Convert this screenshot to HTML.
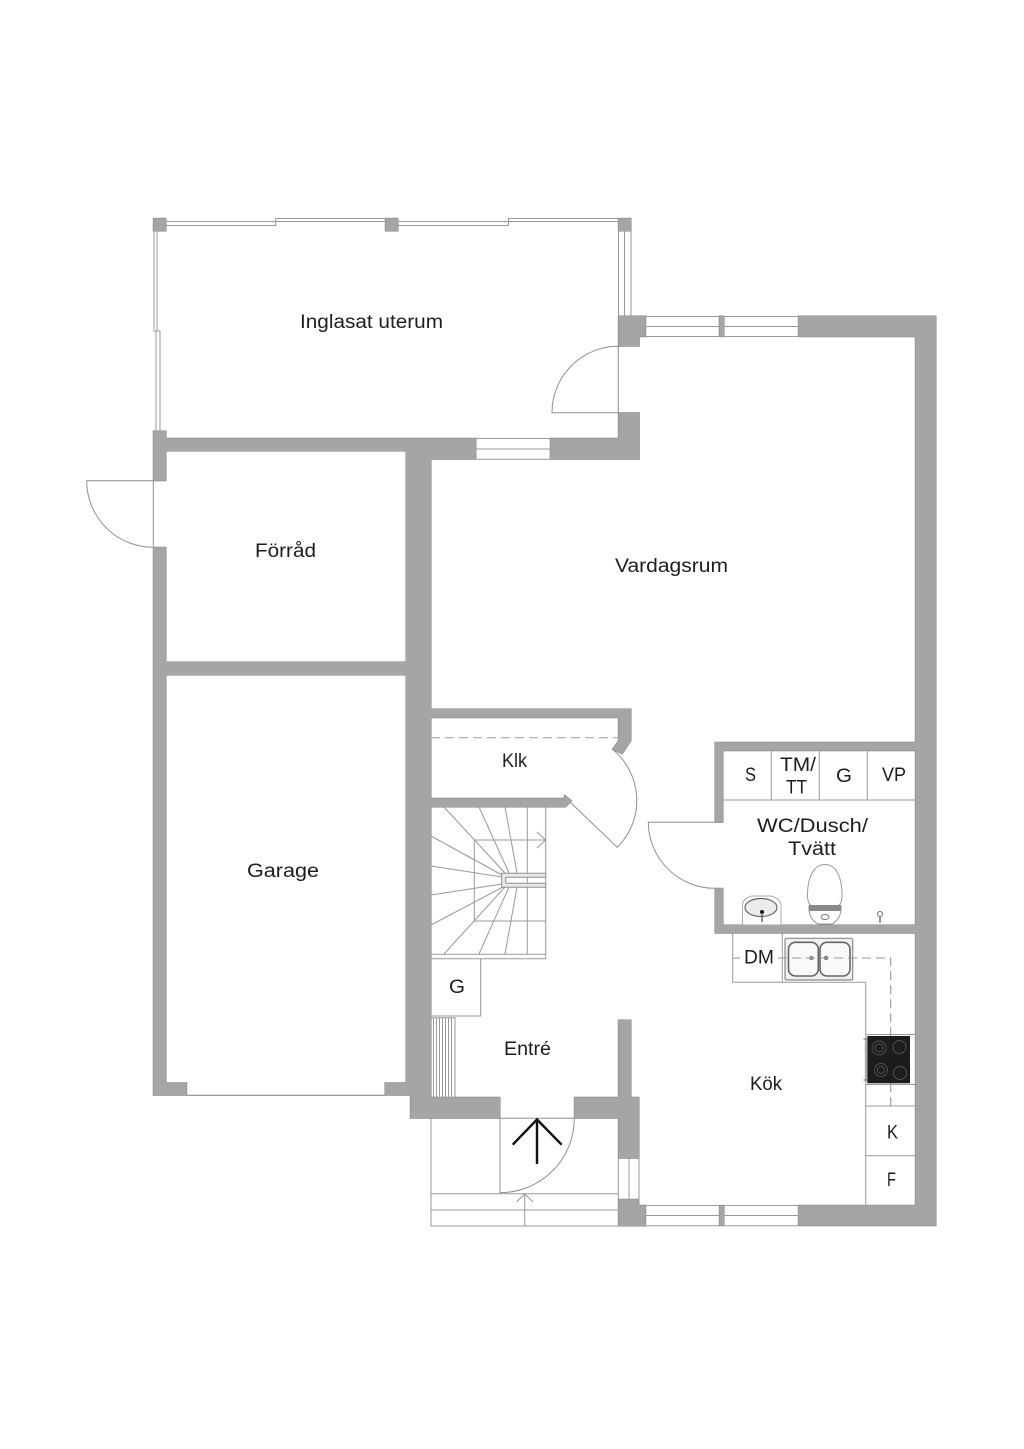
<!DOCTYPE html>
<html><head><meta charset="utf-8"><title>Planritning</title>
<style>
html,body{margin:0;padding:0;background:#fff}
svg{display:block}
text{font-family:"Liberation Sans",sans-serif;font-size:19px;fill:#1d1d1d}
.l{fill:none;stroke:#8f8f8f;stroke-width:1}
.t{fill:none;stroke:#999;stroke-width:1}
</style></head><body>
<svg xmlns="http://www.w3.org/2000/svg" width="1024" height="1449" viewBox="0 0 1024 1449">
<rect width="1024" height="1449" fill="#fff"/>
<defs>
<g id="w">
<rect x="153.3" y="218.3" width="12.7" height="12.7"/>
<rect x="385.3" y="218.3" width="12.7" height="12.7"/>
<rect x="618.3" y="218.3" width="12.7" height="12.7"/>
<path d="M153.3 431H166V438.3H476V451H431V1097.3H500V1118.3H410.3V1095.3H385V1082.7H406V675H166V662H406V451H166V480.7H153.3Z"/>
<path d="M153.3 547.3H166V1082.7H186.7V1095.3H153.3Z"/>
<path d="M476 438.3H476V459.3H431V451H476Z"/>
<path d="M550.3 438.3H618.3V412.7H639.3V459.3H550.3Z"/>
<path d="M618.3 316H645.7V336.7H639.3V346.3H618.3Z"/>
<path d="M798.3 316H936V1225.7H798.3V1205.3H915.3V933.3H715V888.3H723V925H915.3V750.7H723V822.3H715V742.3H915.3V336.7H798.3Z"/>
<path d="M431 709H631V740.7L622.3 754L612.3 749.3L618.3 741V717.7H431Z"/>
<path d="M431 798.3H564L564.5 795L571.7 800.7L565.7 807H431Z"/>
<path d="M574.3 1097.3H618.3V1020H631V1097.3H639V1158.3H618.3V1118.3H574.3Z"/>
<path d="M618.3 1199.3H639V1205.3H645.7V1226H618.3Z"/>
<rect x="719.3" y="316" width="4.7" height="20.7"/>
<rect x="719.3" y="1205.3" width="4.7" height="20.4"/>
</g>
</defs>
<use href="#w" fill="#a5a5a5" stroke="#808080" stroke-width="1"/>
<use href="#w" fill="#a5a5a5"/>

<!-- uterum glazing -->
<g class="t">
<path d="M166 221.5H275.7V218.5H385.3M166 225.5H275.7V221.5H385.3"/>
<path d="M398 221.5H508.5V218.5H618.3M398 225.5H508.5V221.5H618.3"/>
<path d="M154 231V331H156V431M157 231V331H160V431"/>
<path d="M618.5 231V316M624.5 231V316M631 231V316"/>
</g>
<!-- windows -->
<g class="t">
<path d="M645.7 316.5H719.3V336.5H645.7M645.7 326.5H719.3M724 316.5H798.3M724 326.5H798.3M724 336.5H798.3"/>
<path d="M645.7 1205.5H719.3M645.7 1215.5H719.3M645.7 1225.7H719.3M724 1205.5H798.3M724 1215.5H798.3M724 1225.7H798.3"/>
<path d="M476 438.5H550.3M476 449H550.3M476 459.3H550.3M476 438.5V459.3M550.3 438.5V459.3"/>
<path d="M618.3 1158.3V1199.3M629 1158.3V1199.3M639 1158.3V1205"/>
</g>
<!-- doors -->
<g class="l">
<path d="M618.3 346.3A66.3 66.3 0 0 0 552 412.7H618.3V346.3"/>
<path d="M86.7 480.7H153.3V547.3A66.6 66.6 0 0 1 86.7 480.7Z"/>
<path d="M613.3 750A66 66 0 0 1 617.3 847.3L570 802"/>
<path d="M723 822.3H648.3A66.5 66.5 0 0 0 715 888.3"/>
<path d="M574.3 1118.3H500V1192.7A74.3 74.3 0 0 0 574.3 1118.3Z"/>
<path d="M186.7 1095.3H385" stroke-width="1.2"/>
</g>
<!-- klk dashed -->
<path d="M431 737.7H618" fill="none" stroke="#aaa" stroke-width="1.2" stroke-dasharray="9 5"/>
<!-- stairs -->
<g class="t">
<path d="M545.7 807V958.7H431M431 954.3H545.7M527.3 807V954.3"/>
<path d="M545.7 840H474.3V921H545.7"/>
<path d="M537 832L545.7 840L537 848"/>
<path d="M444 807L505 873M479 807L509 873M505 807L517 873M431 836L502 875M431 866L502 877M431 895L502 884M431 925L503 887M444 954L505 887M479 954L509 887M505 954L517 887"/>
</g>
<path d="M545.7 873.3H501.7V887.3H545.7V883.3H505.7V877.3H545.7Z" fill="#e9e9e9" stroke="#8f8f8f" stroke-width="1"/>
<!-- G box and radiator -->
<path class="t" d="M431 1016H480.7V958.7"/>
<g class="t" stroke-width=".8">
<path d="M431 1017.7H455V1097.3M433.5 1017.7V1097.3M436.5 1017.7V1097.3M439.5 1017.7V1097.3M442.5 1017.7V1097.3M445.5 1017.7V1097.3M448.5 1017.7V1097.3M451.5 1017.7V1097.3"/>
</g>
<!-- porch -->
<g class="t">
<path d="M431 1118.3V1226H618.3M431 1193.7H618.3M431 1210H618.3M524.7 1194V1226M516.5 1202L524.7 1194L533 1202"/>
</g>
<path d="M537 1164V1119.5M512.7 1144.7L537 1119.5L561.7 1144.7" fill="none" stroke="#111" stroke-width="2.4"/>
<!-- WC cabinets -->
<g class="t">
<path d="M723 800H915.3M771.3 750.7V800M819.3 750.7V800M867.3 750.7V800"/>
</g>
<!-- WC sink -->
<path d="M742.5 925V905Q743 898 752 896H771Q780 898 781 905V925Z" fill="#fff" stroke="#aaa"/>
<ellipse cx="761" cy="907.5" rx="16" ry="9" fill="#ececec" stroke="#666" stroke-width="1.2"/>
<circle cx="762" cy="912" r="2" fill="#111"/>
<path d="M762 913V922" stroke="#666" stroke-width="1.5"/>
<!-- toilet -->
<path d="M807.5 895C807.5 875 815 864.5 825 864.5C835 864.5 842 875 842 895Q842 905 837 906H813Q807.5 905 807.5 895Z" fill="#fff" stroke="#999"/>
<path d="M809 906H841Q842 918 832 924H818Q808 918 809 906Z" fill="#fff" stroke="#999"/>
<rect x="809" y="905" width="32" height="6" fill="#8a8a8a"/>
<ellipse cx="825" cy="917" rx="4" ry="2.5" fill="#fff" stroke="#777"/>
<circle cx="880" cy="914" r="2.6" fill="#fff" stroke="#777"/>
<path d="M880 917V923" stroke="#999" stroke-width="2"/>
<!-- kitchen counter -->
<g class="t">
<path d="M732.7 933.3V982.3H865.7V1205.3M782.3 933.3V982.3M865.7 1106H915.3M865.7 1155.7H915.3M865.7 1034.5H915.3M865.7 1084.5H915.3"/>
</g>
<!-- sink -->
<rect x="785" y="938.3" width="67.7" height="41.7" rx="1.5" fill="#f0f0f0" stroke="#8a8a8a" stroke-width="1.2"/>
<rect x="788.5" y="942.3" width="29.8" height="33.7" rx="7" fill="#f9f9f9" stroke="#666" stroke-width="1.6"/>
<rect x="820" y="942.3" width="30" height="33.7" rx="7" fill="#f9f9f9" stroke="#666" stroke-width="1.6"/>
<circle cx="811.5" cy="958" r="2.2" fill="#888"/>
<circle cx="826" cy="958" r="2.2" fill="#777"/>
<path d="M733 958H740M778 958H890.7V1106" fill="none" stroke="#9a9a9a" stroke-width="1.1" stroke-dasharray="9 5"/>
<!-- stove -->
<rect x="867.3" y="1036" width="42.7" height="47.3" fill="#1c1c1c"/>
<path d="M866 1038V1081" stroke="#aaa" stroke-width="2.4"/>
<path d="M863.5 1039H867M863.5 1080H867" stroke="#777"/>
<g fill="none" stroke="#4f4f4f" stroke-width="1">
<circle cx="879" cy="1048" r="7"/><circle cx="879" cy="1048" r="4"/>
<circle cx="899.5" cy="1047" r="6.5"/>
<circle cx="881" cy="1070" r="6.5"/><circle cx="881" cy="1070" r="3.5"/>
<circle cx="900" cy="1073" r="6.5"/>
</g>
<!-- labels -->
<text x="300" y="328" textLength="143" lengthAdjust="spacingAndGlyphs">Inglasat uterum</text>
<text x="255" y="557" textLength="61" lengthAdjust="spacingAndGlyphs">Förråd</text>
<text x="615" y="572" textLength="113" lengthAdjust="spacingAndGlyphs">Vardagsrum</text>
<text x="247" y="877" textLength="72" lengthAdjust="spacingAndGlyphs">Garage</text>
<text x="502" y="767" textLength="25" lengthAdjust="spacingAndGlyphs">Klk</text>
<text x="745" y="781" textLength="11" lengthAdjust="spacingAndGlyphs">S</text>
<text x="780" y="771" textLength="36" lengthAdjust="spacingAndGlyphs">TM/</text>
<text x="786" y="793.5" textLength="21" lengthAdjust="spacingAndGlyphs">TT</text>
<text x="836" y="782" textLength="16" lengthAdjust="spacingAndGlyphs">G</text>
<text x="882" y="781" textLength="24" lengthAdjust="spacingAndGlyphs">VP</text>
<text x="757" y="832" textLength="111" lengthAdjust="spacingAndGlyphs">WC/Dusch/</text>
<text x="788" y="855" textLength="48" lengthAdjust="spacingAndGlyphs">Tvätt</text>
<text x="744" y="963.5" textLength="30" lengthAdjust="spacingAndGlyphs">DM</text>
<text x="449" y="993" textLength="16" lengthAdjust="spacingAndGlyphs">G</text>
<text x="504" y="1055" textLength="47" lengthAdjust="spacingAndGlyphs">Entré</text>
<text x="750" y="1090" textLength="32" lengthAdjust="spacingAndGlyphs">Kök</text>
<text x="887" y="1138.5" textLength="11" lengthAdjust="spacingAndGlyphs">K</text>
<text x="887" y="1186" textLength="9" lengthAdjust="spacingAndGlyphs">F</text>
</svg>
</body></html>
